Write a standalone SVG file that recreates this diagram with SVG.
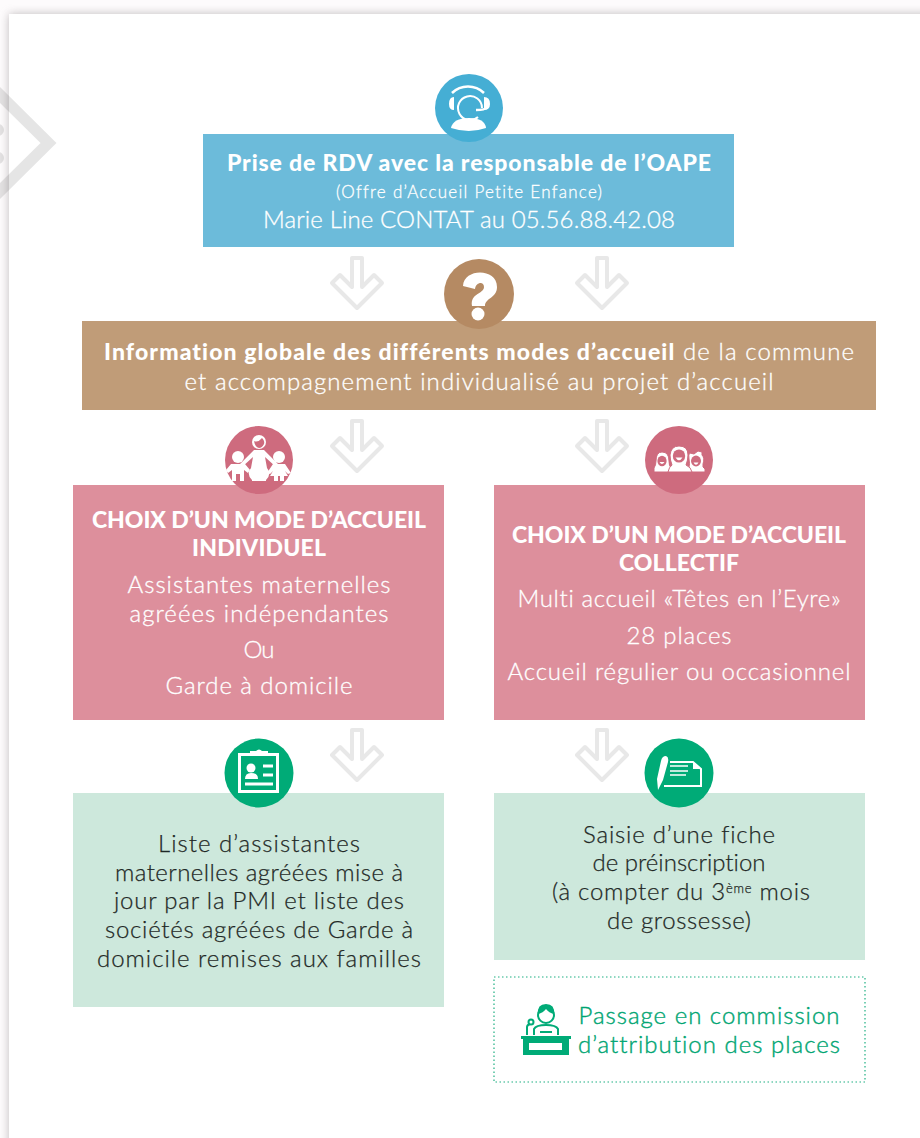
<svg xmlns="http://www.w3.org/2000/svg" width="920" height="1138" viewBox="0 0 920 1138">
<defs>
<filter id="blur" x="-5%" y="-5%" width="110%" height="110%"><feGaussianBlur stdDeviation="5"/></filter>
<g id="arrow"><path d="M-5 -26H5V3L17 -9L25 -1L0 24L-25 -1L-17 -9L-5 3Z" fill="#fff" stroke="#e8e8e8" stroke-width="4" stroke-linejoin="round"/></g>
</defs>
<style>
text{font-family:"Lato","Noto Sans",sans-serif;fill:#fff;stroke:#fff;stroke-width:.3px;font-size:24px;font-weight:300;text-anchor:middle;font-variant-ligatures:none}
.b{font-weight:900;font-size:23px;stroke:none}
.d{fill:#1f2826;stroke:#1f2826;stroke-width:.25px}
.g{fill:#00a572;stroke:#00a572;stroke-width:.4px}
.w{fill:#fff}
.s{fill:none;stroke:#fff}
</style>
<rect width="920" height="1138" fill="#fdfbfc"/>
<rect x="9" y="14" width="930" height="1140" fill="#8d8688" filter="url(#blur)" opacity=".55"/>
<rect x="9" y="14" width="911" height="1124" fill="#fff"/>
<g id="watermark" fill="none" stroke="#000" stroke-opacity=".1" stroke-width="11.3">
<path d="M-5 90L48.500 143L-5 196"/>
<circle cx="-2" cy="130" r="6" fill="#000" fill-opacity=".1" stroke="none"/><circle cx="-2" cy="158" r="6" fill="#000" fill-opacity=".1" stroke="none"/>
</g>
<g id="connectors">
<use href="#arrow" x="357" y="284"/><use href="#arrow" x="602" y="284"/>
<use href="#arrow" x="357" y="447"/><use href="#arrow" x="602" y="447"/>
<use href="#arrow" x="357" y="756"/><use href="#arrow" x="602" y="756"/>
</g>
<g id="node-rdv">
<rect x="203" y="134" width="531" height="113" fill="#6cbbda"/>
<circle cx="469" cy="108" r="34" fill="#45aed4"/>
<path d="M452 93A23 23 0 0 1 484 93" class="s" stroke-width="2.600"/>
<path d="M478 117A12 12 0 1 1 482 108" class="s" stroke-width="2"/>
<path d="M454 97Q449 97 449 104Q449 110 454 110Z M484 97Q490 97 490 104Q490 110 484 110Z" class="w"/>
<path d="M485 108Q485 110 476 110" class="s" stroke-width="2.400"/>
<path d="M451 128Q453 118 469 118Q485 118 486 128Q469 134 451 128Z" class="w"/>
<text class="b" x="469" y="171" textLength="484">Prise de RDV avec la responsable de l’OAPE</text>
<text x="469" y="198" style="font-size:17px" textLength="266">(Offre d’Accueil Petite Enfance)</text>
<text x="469" y="228" textLength="412">Marie Line CONTAT au 05.56.88.42.08</text>
</g>
<g id="node-info">
<rect x="82" y="321" width="794" height="89" fill="#c09c78"/>
<circle cx="479" cy="294" r="35" fill="#b58a63"/>
<path d="M463 286C464 268 497 268 497 287C497 298 485 298 485 306H472C470 293 484 294 484 287C484 281 476 282 475 289Z" class="w"/>
<circle cx="478" cy="314" r="6.500" class="w"/>
<text x="479" y="360" textLength="750"><tspan class="b">Information globale des différents modes d’accueil</tspan> de la commune</text>
<text x="479" y="390" textLength="589">et accompagnement individualisé au projet d’accueil</text>
</g>
<g id="node-individuel">
<rect x="73" y="485" width="371" height="235" fill="#dd8f9c"/>
<circle cx="259" cy="460" r="34" fill="#ce6b7e"/>
<g class="w">
<circle cx="259" cy="442" r="7"/>
<path d="M254 450H264L278 464L276 467L265 457L267 468Q272 474 266 480V481H252V480Q246 474 251 468L253 457L242 467L240 464Z"/>
<circle cx="238" cy="457" r="6"/>
<path d="M231 464H245L250 470L248 473L244 470V481H240V474H236V481H232V470L228 473L226 470Z"/>
<circle cx="279" cy="457" r="6"/>
<path d="M273 464H285L291 473L288 474L285 471L288 476H284V481H280V476H278V481H274V476H270L273 471L270 474L267 473Z"/>
</g>
<path d="M254 441Q258 443 262 438Q265 441 264 444Q262 448 259 448Q255 447 254 441Z" fill="#ce6b7e"/>
<text class="b" x="259" y="528" textLength="334">CHOIX D’UN MODE D’ACCUEIL</text>
<text class="b" x="259" y="556" textLength="134">INDIVIDUEL</text>
<text x="259" y="593" textLength="263">Assistantes maternelles</text>
<text x="259" y="622" textLength="259">agréées indépendantes</text>
<text x="259" y="658" textLength="31">Ou</text>
<text x="259" y="694" textLength="187">Garde à domicile</text>
</g>
<g id="node-collectif">
<rect x="494" y="485" width="371" height="235" fill="#dd8f9c"/>
<circle cx="679" cy="460" r="34" fill="#ce6b7e"/>
<g class="w" stroke="#ce6b7e" stroke-width="1">
<path d="M654 472V468Q656 465 656 461Q656 452 662 452Q669 452 669 461Q669 466 671 468V472Z"/>
<path d="M689 472V467Q690 464 689 459Q688 454 690 453L694 454L698 451L702 452L702 455Q705 458 703 464V467L705 469V472Z"/>
<path d="M668 472Q669 467 672 465Q670 460 670 455Q671 446 679 446Q688 446 688 455Q688 460 686 465Q691 467 692 472Z"/>
</g>
<g fill="#ce6b7e"><ellipse cx="662" cy="461" rx="4.600" ry="5.200"/><ellipse cx="679" cy="456" rx="6.200" ry="6.600"/><ellipse cx="696" cy="461" rx="5" ry="5.400"/></g>
<path d="M659.500 462Q662 466 664.500 462ZM675.500 457.500Q679 463 682.500 457.500ZM693.500 462.500Q696 467 698.500 462.500Z" class="w"/>
<text class="b" x="679" y="543" textLength="334">CHOIX D’UN MODE D’ACCUEIL</text>
<text class="b" x="679" y="571" textLength="120">COLLECTIF</text>
<text x="679" y="607" textLength="323">Multi accueil «Têtes en l’Eyre»</text>
<text x="679" y="644" textLength="105">28 places</text>
<text x="679" y="680" textLength="343">Accueil régulier ou occasionnel</text>
</g>
<g id="node-liste">
<rect x="73" y="793" width="371" height="214" fill="#cde8dc"/>
<circle cx="259" cy="773" r="34.500" fill="#00ab77"/>
<rect x="239.500" y="754.500" width="38" height="37" fill="none" stroke="#fff" stroke-width="3"/>
<path d="M250 756V751H256Q259 748 262 751H268V756Z" class="w"/>
<circle cx="251" cy="768" r="4.500" class="w"/><path d="M245 779Q245 773 251 773Q258 773 258 779Z" class="w"/>
<path d="M263 766H273M263 775H273M245 784H273" class="s" stroke-width="3"/>
<text class="d" x="259" y="852" textLength="202">Liste d’assistantes</text>
<text class="d" x="259" y="881" textLength="288">maternelles agréées mise à</text>
<text class="d" x="259" y="909" textLength="290">jour par la PMI et liste des</text>
<text class="d" x="259" y="938" textLength="308">sociétés agréées de Garde à</text>
<text class="d" x="259" y="967" textLength="324">domicile remises aux familles</text>
</g>
<g id="node-saisie">
<rect x="494" y="793" width="371" height="167" fill="#cde8dc"/>
<circle cx="679" cy="773" r="34.500" fill="#00ab77"/>
<path d="M661 761Q662 756 666 756Q669 757 668 762L663 780L658 790L657 779Z" class="w"/>
<path d="M670 762H693L701 769V786H664" class="s" stroke-width="2"/>
<path d="M693 762V769H701Z" class="w"/>
<path d="M670 766H688M670 771H688M670 775H686" class="s" stroke-width="1.400"/>
<text class="d" x="679" y="843" textLength="192">Saisie d’une fiche</text>
<text class="d" x="679" y="871" textLength="173">de préinscription</text>
<text class="d" x="681" y="900" textLength="258">(à compter du 3<tspan dy="-7" style="font-size:13px">ème</tspan><tspan dy="7"> mois</tspan></text>
<text class="d" x="679" y="929" textLength="144">de grossesse)</text>
</g>
<g id="node-commission">
<rect x="494" y="977" width="371" height="105" fill="none" stroke="#1fb082" stroke-width="1.200" stroke-dasharray="1.500 2.500"/>
<g fill="none" stroke="#00ab77" stroke-width="2">
<circle cx="546" cy="1015" r="8"/>
<path d="M534 1035V1029Q536 1025 546 1025Q556 1025 558 1029V1035"/>
<path d="M540 1032H552M527 1035V1027Q527 1025 530 1024"/><circle cx="531" cy="1022" r="2.500"/>
</g>
<path d="M538 1014Q537 1004 546 1004Q555 1004 554 1014Q549 1013 546 1009Q543 1013 538 1014Z" fill="#00ab77"/>
<path d="M521 1036H571V1039H569V1055H523V1039H521ZM529 1043V1050H562V1043Z" fill="#00ab77" fill-rule="evenodd"/>
<text class="g" x="709" y="1024" textLength="261">Passage en commission</text>
<text class="g" x="709" y="1053" textLength="262">d’attribution des places</text>
</g>
</svg>
